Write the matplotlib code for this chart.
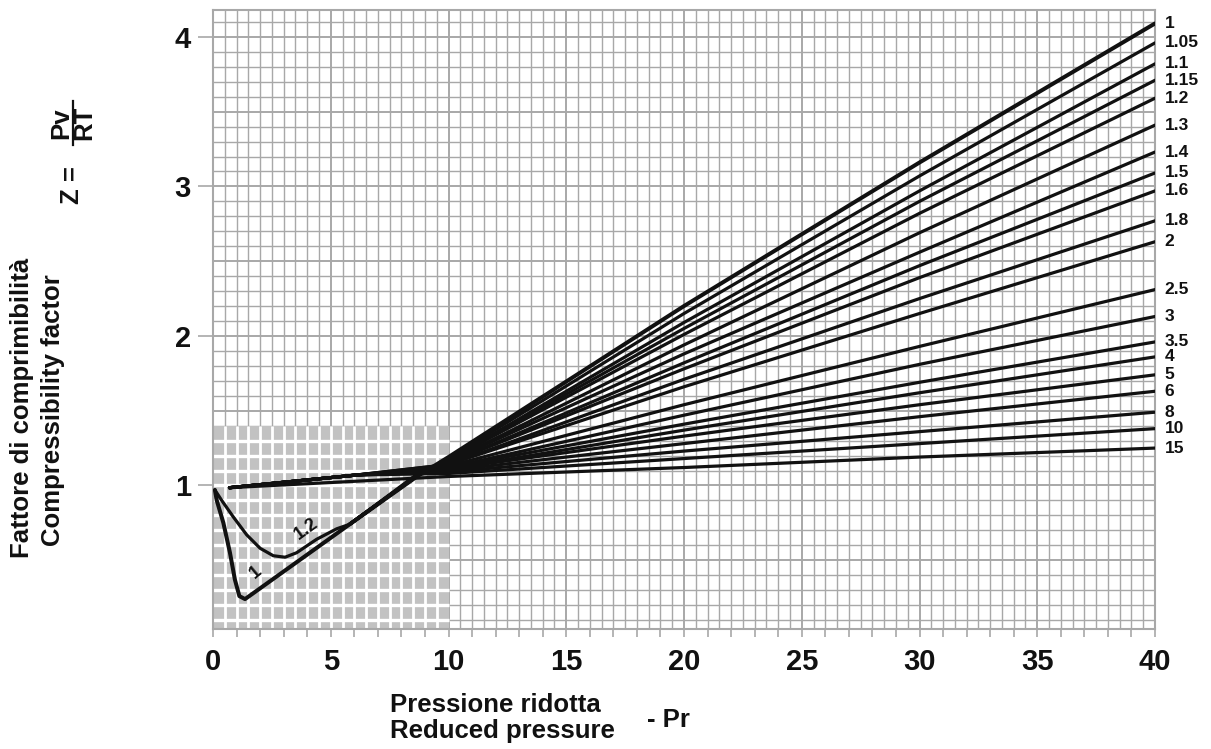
import matplotlib
matplotlib.use("Agg")
import matplotlib.pyplot as plt
from matplotlib.patches import Rectangle
from matplotlib.lines import Line2D
import numpy as np

plt.rcParams["font.family"] = ["Liberation Sans", "DejaVu Sans"]

W, H = 1211, 749
GRID = "#a8a8a8"
SHADE = "#c2c2c2"
INK = "#111111"

# reduced temperature of each isotherm, and its compressibility factor
# at Pr = 10, 20, 30 and 40
TR_LABELS = ["1", "1.05", "1.1", "1.15", "1.2", "1.3", "1.4", "1.5", "1.6",
             "1.8", "2", "2.5", "3", "3.5", "4", "5", "6", "8", "10", "15"]
Z_PR10 = [1.19, 1.18, 1.17, 1.17, 1.17, 1.16, 1.16, 1.15, 1.15,
          1.14, 1.14, 1.13, 1.12, 1.12, 1.11, 1.11, 1.10, 1.09, 1.08, 1.06]
Z_PR20 = [2.20, 2.15, 2.09, 2.05, 2.01, 1.94, 1.88, 1.82, 1.78,
          1.71, 1.66, 1.54, 1.47, 1.41, 1.37, 1.33, 1.28, 1.23, 1.18, 1.12]
Z_PR30 = [3.16, 3.07, 2.97, 2.90, 2.82, 2.69, 2.56, 2.47, 2.39,
          2.25, 2.15, 1.93, 1.81, 1.69, 1.62, 1.54, 1.46, 1.36, 1.28, 1.19]
Z_PR40 = [4.09, 3.96, 3.82, 3.71, 3.59, 3.41, 3.23, 3.09, 2.97,
          2.77, 2.63, 2.31, 2.13, 1.96, 1.86, 1.74, 1.63, 1.49, 1.38, 1.25]

# low-pressure branches
PR_TR1_LOW = [0.08, 0.16, 0.44, 0.72, 0.93, 1.12, 1.36, 5.8, 8.66]
Z_TR1_LOW = [0.97, 0.90, 0.75, 0.55, 0.37, 0.26, 0.24, 0.74, 1.06]
PR_TR12_LOW = [0.08, 0.37, 0.86, 1.43, 2.0, 2.56, 3.06, 3.55, 4.4, 5.25, 5.8, 8.7]
Z_TR12_LOW = [0.97, 0.90, 0.79, 0.67, 0.58, 0.53, 0.52, 0.55, 0.64, 0.71, 0.74, 1.08]
PR_RISING = [5.8, 8.7]          # shared start for 1.05 ... 1.6
Z_RISING = [0.74, 1.07]
PR_FLAT = [0.7, 6.1]            # shared start for 1.8 ... 10
Z_FLAT = [0.985, 1.07]
PR_TR15_LOW = [0.7]
Z_TR15_LOW = [0.985]

PR_FAN = [10, 20, 30, 40]

fig = plt.figure(figsize=(W / 100, H / 100), dpi=100)
ax = fig.add_axes([213 / W, (H - 629) / H, (1155 - 213) / W, (629 - 10) / H])
ax.set_xlim(0, 40)
ax.set_ylim(0.04, 4.18)

# graph-paper grid
xs = np.arange(0.5, 40, 0.5)
ys = np.arange(0.1, 4.15, 0.1)
for x in xs:
    major = abs(x % 5) < 1e-6
    ax.axvline(x, color=GRID, lw=1.4 if major else 1.0, zorder=0.5)
for y in ys:
    major = abs((y * 10) % 5) < 1e-6
    ax.axhline(y, color=GRID, lw=1.4 if major else 1.0, zorder=0.5)

# shaded low-pressure block with white rulings
ax.add_patch(Rectangle((0, 0.04), 10, 1.4 - 0.04, facecolor=SHADE,
                       edgecolor="none", zorder=1))
ax.vlines(xs[xs < 10], 0.04, 1.4, color="white", lw=2.0, zorder=1.2)
ax.hlines(ys[ys < 1.4], 0, 10, color="white", lw=2.4, zorder=1.2)

low = {"1": (PR_TR1_LOW, Z_TR1_LOW), "1.2": (PR_TR12_LOW, Z_TR12_LOW),
       "15": (PR_TR15_LOW, Z_TR15_LOW)}
for i, lab in enumerate(TR_LABELS):
    if lab in low:
        p0, z0 = low[lab]
    elif float(lab) < 1.7:
        p0, z0 = PR_RISING, Z_RISING
    else:
        p0, z0 = PR_FLAT, Z_FLAT
    pr = list(p0) + PR_FAN
    z = list(z0) + [Z_PR10[i], Z_PR20[i], Z_PR30[i], Z_PR40[i]]
    ax.plot(pr, z, color=INK, lw=2.9 if lab == "1" else 2.3,
            solid_joinstyle="round", solid_capstyle="round", zorder=3)
    ax.annotate(lab, (40, Z_PR40[i]), xytext=(7, 0), textcoords="offset points",
                ha="left", va="center", fontsize=12.5, fontweight="bold",
                color=INK, annotation_clip=False)

# labels on the dipping isotherms
ax.text(1.80, 0.42, "1", rotation=40, fontsize=13, fontweight="bold",
        ha="center", va="center", color=INK, zorder=4)
ax.text(3.95, 0.71, "1.2", rotation=36, fontsize=13, fontweight="bold",
        ha="center", va="center", color=INK, zorder=4)

for s in ax.spines.values():
    s.set_color(GRID)
    s.set_linewidth(1.5)
    s.set_zorder(2)

ax.set_xticks(range(0, 41, 5))
ax.set_xticks(range(0, 41), minor=True)
ax.set_yticks([1, 2, 3, 4])
ax.tick_params(axis="x", which="both", length=6, width=1.2, color=GRID,
               labelsize=21, pad=8)
ax.tick_params(axis="y", length=11, width=1.2, color=GRID, labelsize=21, pad=5)
for t in ax.get_xticklabels() + ax.get_yticklabels():
    t.set_fontweight("bold")
    t.set_color(INK)


def fx(px):
    return px / W


def fy(py):
    return 1 - py / H


lab_kw = dict(fontsize=18.5, fontweight="bold", color=INK)
fig.text(fx(390), fy(712), "Pressione ridotta", ha="left", va="baseline", **lab_kw)
fig.text(fx(390), fy(738), "Reduced pressure", ha="left", va="baseline", **lab_kw)
fig.text(fx(647), fy(727), "- Pr", ha="left", va="baseline", **lab_kw)

fig.text(fx(22), fy(408), "Fattore di comprimibilità", rotation=90,
         ha="center", va="center", **lab_kw)
fig.text(fx(53), fy(410), "Compressibility factor", rotation=90,
         ha="center", va="center", **lab_kw)
fig.text(fx(72), fy(185), "Z =", rotation=90, ha="center", va="center", **lab_kw)
fig.text(fx(61), fy(123), "Pv", rotation=90, ha="center", va="center", **lab_kw)
fig.text(fx(84), fy(123), "RT", rotation=90, ha="center", va="center", **lab_kw)
fig.add_artist(Line2D([fx(72.5), fx(72.5)], [fy(101), fy(145)], color=INK, lw=1.6))

fig.savefig("out.png", dpi=100)
